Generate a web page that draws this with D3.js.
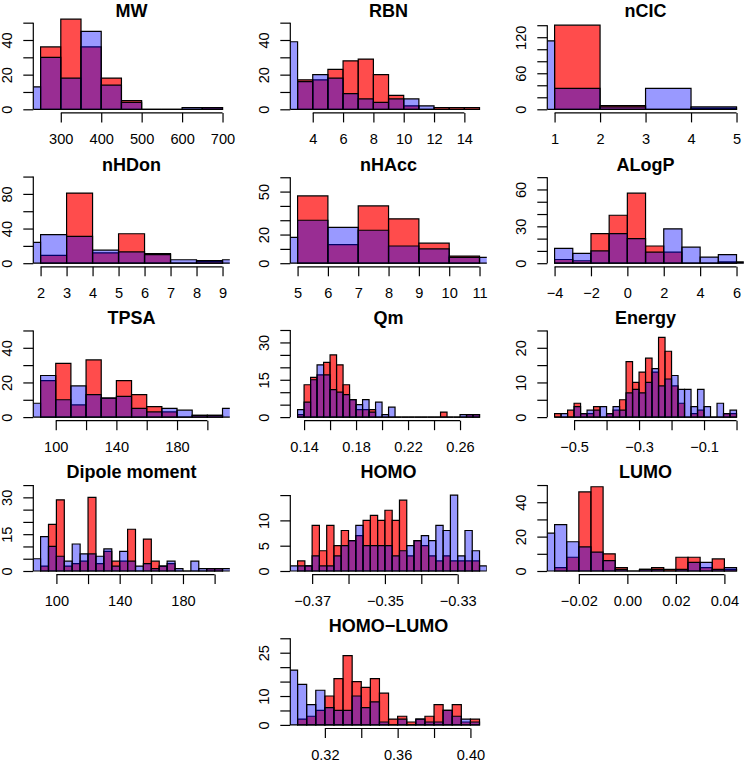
<!DOCTYPE html>
<html><head><meta charset="utf-8">
<script src="https://cdn.jsdelivr.net/npm/d3@7"></script>
<style>
body{margin:0;background:#fff}
svg{display:block}
text{font-family:"Liberation Sans",Arial,Helvetica,sans-serif;fill:#000}
</style>
</head><body>
<svg id="c" width="746" height="762"></svg>
<script>
// ---------------- DATA ----------------
const titles = ["MW","RBN","nCIC","nHDon","nHAcc","ALogP","TPSA","Qm","Energy","Dipole moment","HOMO","LUMO","HOMO\u2212LUMO"];
const binWidths = [50, 1, 1, 1, 1, 1, 10, 0.005, 0.02, 5, 0.002, 0.005, 0.005];
const redStarts  = [250, 3, 1, 2, 5, -4, 90, 0.135, -0.56, 90, -0.374, -0.03, 0.305];
const blueStarts = [200, 2, 0, 1, 4, -4, 80, 0.135, -0.56, 85, -0.376, -0.035, 0.300];
const xLims = [[250,700],[3,15],[1,5],[2,9],[5,11],[-4,6],[90,210],[0.135,0.275],[-0.56,0],[90,205],[-0.374,-0.324],[-0.03,0.045],[0.305,0.405]];
const yLims = [52, 52, 150, 104, 62.9, 73.3, 52, 36.2, 26, 36.7, 17.8, 52.4, 31.2];

const redMW   = [36,52,36,18,5,0,0,0,1];
const blueMW  = [13,30,18,45,14,4,0,0,1,1];
const redRBN  = [17,17,23,28,29,20,8,2,0,1,1,1];
const blueRBN = [39,16,20,18,9,6,4,6,6,2];
const redCIC  = [140,6,0,2];
const blueCIC = [114,35,4,35,4];
const redHDon = [9,81,12,34,11,0,2];
const blueHDon= [24,33,31,15,13,10,4,3,4];
const redHAcc = [47,13,40,31,14,5];
const blueHAcc= [18,30,25,23,12,10,4,4];
const redALogP= [3,2,24,39,57,14,9,0,0,1];
const blueALogP=[12,8,10,24,20,9,28,13,5,7,1];
const redTPSA = [21,31,7,33,11,21,13,6,3,0,1,1];
const blueTPSA= [8,24,10,18,13,11,12,5,3,5,4,1,1,5];
const redQm   = [1,13,16,17,22,25,21,13,7,3,3,3,0,0,0,0,0,0,0,0,0,0,2,0,0,0,1,1];
const blueQm  = [3,6,15,21,17,11,10,9,7,5,7,2,6,1,4,0,0,0,0,0,0,0,0,0,0,1,1,1];
const redEn   = [1,0,2,4,1,1,3,0,1,2,5,16,10,13,17,13,23,19,9,4,0,1,2,0,0,0,1,1];
const blueEn  = [0,1,0,3,1,2,2,3,1,3,2,7,8,7,10,14,9,11,12,8,8,3,8,3,0,4,1,2];
const redDip  = [2,19,29,2,3,4,30,3,8,4,4,17,0,13,4,2,3,0,0,0,0,1,1];
const blueDip = [5,14,10,6,4,11,7,7,6,9,2,8,4,2,3,1,2,4,1,0,4,1,1,1,1];
const redHOMO = [2,1,9,4,9,5,8,6,7,10,11,10,12,10,14,3,6,5,3,2,3,2,2,2,2];
const blueHOMO= [1,1,1,3,1,1,3,5,6,9,5,5,5,5,3,4,5,6,7,6,9,8,15,3,8,4,1];
const redLUMO = [2,8,46,49,10,2,0,1,2,1,8,8,2,7,1];
const blueLUMO= [22,27,17,14,11,6,1,0,1,1,0,1,5,5,1,2];
const redHL   = [2,3,5,10,16,24,15,13,16,11,2,3,1,2,3,7,5,7,1,2];
const blueHL  = [19,14,7,12,6,5,5,10,6,8,1,0,2,0,2,1,1,5,3,2,1];

const redCounts  = [redMW,redRBN,redCIC,redHDon,redHAcc,redALogP,redTPSA,redQm,redEn,redDip,redHOMO,redLUMO,redHL];
const blueCounts = [blueMW,blueRBN,blueCIC,blueHDon,blueHAcc,blueALogP,blueTPSA,blueQm,blueEn,blueDip,blueHOMO,blueLUMO,blueHL];

const xTicks = [
  [300,400,500,600,700],[4,6,8,10,12,14],[1,2,3,4,5],[2,3,4,5,6,7,8,9],[5,6,7,8,9,10,11],[-4,-2,0,2,4,6],
  [100,120,140,160,180,200],[0.14,0.16,0.18,0.20,0.22,0.24,0.26],[-0.5,-0.4,-0.3,-0.2,-0.1,0],
  [100,120,140,160,180,200],[-0.37,-0.36,-0.35,-0.34,-0.33],[-0.02,0,0.02,0.04],[0.32,0.34,0.36,0.38,0.40]];
const xTickLabels = [
  ["300","400","500","600","700"],["4","6","8","10","12","14"],["1","2","3","4","5"],["2","3","4","5","6","7","8","9"],
  ["5","6","7","8","9","10","11"],["\u22124","\u22122","0","2","4","6"],
  ["100","","140","","180",""],["0.14","","0.18","","0.22","","0.26"],["\u22120.5","","\u22120.3","","\u22120.1",""],
  ["100","","140","","180",""],["\u22120.37","","\u22120.35","","\u22120.33"],["\u22120.02","0.00","0.02","0.04"],["0.32","","0.36","","0.40"]];
const yTicks = [
  [0,10,20,30,40,50],[0,10,20,30,40,50],[0,20,40,60,80,100,120,140],[0,20,40,60,80,100],[0,10,20,30,40,50,60],
  [0,10,20,30,40,50,60,70],[0,10,20,30,40,50],[0,5,10,15,20,25,30,35],[0,5,10,15,20,25],[0,5,10,15,20,25,30,35],
  [0,5,10,15],[0,10,20,30,40,50],[0,5,10,15,20,25,30]];
const yTickLabels = [
  ["0","","20","","40",""],["0","","20","","40",""],["0","","","60","","","120",""],["0","","40","","80",""],
  ["0","","20","","","50",""],["0","","","30","","","60",""],["0","","20","","40",""],["0","","","15","","","30",""],
  ["0","","10","","20",""],["0","","","15","","","30",""],["0","5","10",""],["0","","20","","40",""],["0","","10","","","25",""]];

// ---------------- LAYOUT ----------------
const PW = 196.5, PH = 97.3;
const COL0 = 33.3, COLP = 257, ROW0 = 109.3, ROWP = 153.9;
const svg = d3.select("#c");
const defs = svg.append("defs");
const LW = 1.2;

titles.forEach((title, i) => {
  const row = i < 12 ? Math.floor(i / 3) : 4;
  const col = i < 12 ? i % 3 : 1;
  const left = COL0 + COLP * col;
  const y0 = ROW0 + ROWP * row;
  const bottom = y0 + PH * 0.04 / 1.08;
  const top = bottom - PH;
  const [xa, xb] = xLims[i];
  const xr = xb - xa;
  const x = d3.scaleLinear().domain([xa - 0.04 * xr, xb + 0.04 * xr]).range([left, left + PW]);
  const yl = yLims[i];
  const y = d3.scaleLinear().domain([-0.04 * yl, 1.04 * yl]).range([bottom, top]);

  defs.append("clipPath").attr("id", "clip" + i)
    .append("rect").attr("x", left).attr("y", top).attr("width", PW).attr("height", PH);

  const g = svg.append("g");
  const bars = g.append("g").attr("clip-path", `url(#clip${i})`);
  const w = binWidths[i];
  function drawSeries(counts, start, fill) {
    const data = counts.map((c, k) => ({ x0: start + k * w, x1: start + (k + 1) * w, c }));
    bars.append("g").selectAll("path").data(data).join("path")
      .attr("d", d => {
        const a = x(d.x0), b = x(d.x1), yb = y(0), yt = y(d.c);
        return `M${a},${yb}L${a},${yt}L${b},${yt}L${b},${yb}Z`;
      })
      .attr("fill", fill).attr("stroke", "#000").attr("stroke-width", LW);
  }
  drawSeries(redCounts[i], redStarts[i], "rgba(255,0,0,0.7)");
  drawSeries(blueCounts[i], blueStarts[i], "rgba(0,0,255,0.4)");

  // x axis
  const xt = xTicks[i], xlab = xTickLabels[i];
  const gx = g.append("g").attr("transform", `translate(0,${bottom})`)
    .call(d3.axisBottom(x).tickValues(xt).tickSizeInner(9.5).tickSizeOuter(0)
      .tickFormat((d, k) => xlab[k]));
  gx.select(".domain").remove();
  gx.selectAll("line").attr("stroke", "#000").attr("stroke-width", LW);
  gx.selectAll("text").attr("y", 31).attr("dy", 0).style("font-size", "14.6px").attr("fill", "#000");
  gx.append("line").attr("x1", x(xt[0])).attr("x2", x(xt[xt.length - 1]))
    .attr("y1", 0).attr("y2", 0).attr("stroke", "#000").attr("stroke-width", LW);

  // y axis
  const yt = yTicks[i], ylab = yTickLabels[i];
  const gy = g.append("g").attr("transform", `translate(${left},0)`)
    .call(d3.axisLeft(y).tickValues(yt).tickSizeInner(10).tickSizeOuter(0)
      .tickFormat((d, k) => ylab[k]));
  gy.select(".domain").remove();
  gy.selectAll("line").attr("stroke", "#000").attr("stroke-width", LW);
  gy.selectAll("text").attr("transform", "rotate(-90)").attr("x", 0).attr("y", -21.6)
    .attr("dy", 0).attr("text-anchor", "middle").style("font-size", "14.6px").attr("fill", "#000");
  gy.append("line").attr("x1", 0).attr("x2", 0)
    .attr("y1", y(yt[0])).attr("y2", y(yt[yt.length - 1])).attr("stroke", "#000").attr("stroke-width", LW);

  // title
  g.append("text").attr("x", left + PW / 2).attr("y", top + 1)
    .attr("text-anchor", "middle").style("font-size", "18px").style("font-weight", "bold").text(title);
});
</script>
</body></html>
